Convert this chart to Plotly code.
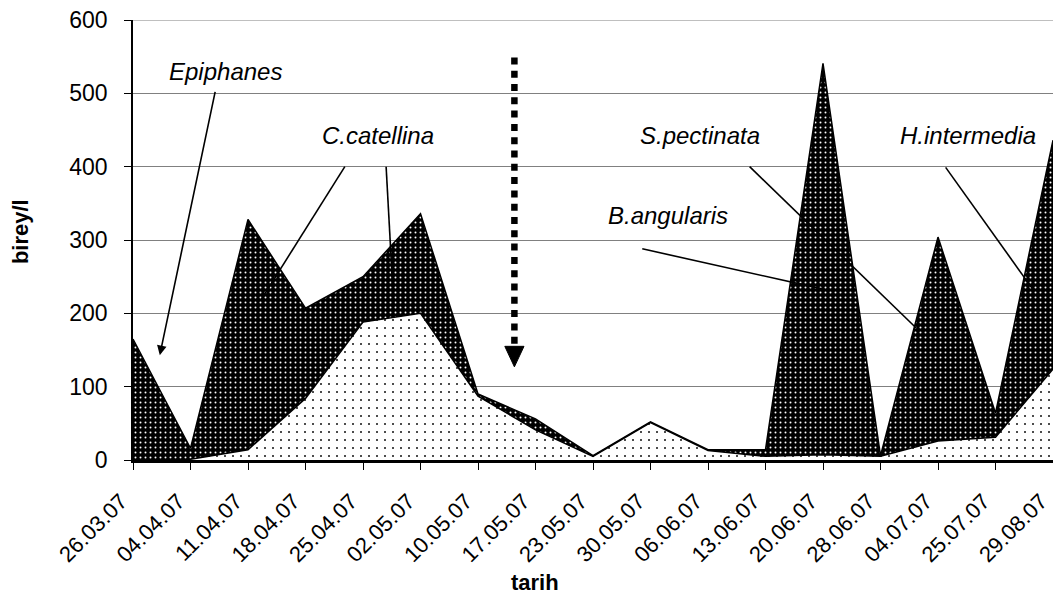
import plotly.graph_objects as go

dates = ["26.03.07", "04.04.07", "11.04.07", "18.04.07", "25.04.07", "02.05.07",
         "10.05.07", "17.05.07", "23.05.07", "30.05.07", "06.06.07", "13.06.07",
         "20.06.07", "28.06.07", "04.07.07", "25.07.07", "29.08.07"]
light_vals = [0, 1, 14, 84, 188, 200, 87, 41, 5, 51, 13, 5, 7, 5, 26, 31, 124]
dark_vals = [165, 15, 314, 123, 62, 136, 3, 15, 1, 1, 1, 9, 534, 1, 278, 33, 312]
y_ticks = [0, 100, 200, 300, 400, 500, 600]

FONT = "Liberation Sans, Arial, sans-serif"
xs = list(range(len(dates)))

fig = go.Figure()
fig.add_trace(go.Scatter(
    x=xs, y=light_vals, stackgroup="one", mode="lines",
    line=dict(color="black", width=1.5),
    fillcolor="white",
    fillpattern=dict(shape=".", size=8, solidity=0.05, bgcolor="white",
                     fgcolor="#111111", fillmode="replace"),
    hoverinfo="skip", showlegend=False))
fig.add_trace(go.Scatter(
    x=xs, y=dark_vals, stackgroup="one", mode="lines",
    line=dict(color="black", width=1.5),
    fillcolor="black",
    fillpattern=dict(shape=".", size=5, solidity=0.12, bgcolor="black",
                     fgcolor="#ffffff", fillmode="replace"),
    hoverinfo="skip", showlegend=False))

# text labels
labels = [
    ("Epiphanes", 1.616, 530),
    ("C.catellina", 4.259, 443),
    ("S.pectinata", 9.862, 443),
    ("B.angularis", 9.302, 333),
    ("H.intermedia", 14.517, 443),
]
anns = []
for t, x, y in labels:
    anns.append(dict(x=x, y=y, xref="x", yref="y", text=t, showarrow=False,
                     xanchor="center", yanchor="middle",
                     font=dict(family=FONT, size=24, color="black", style="italic")))

# Epiphanes arrow
anns.append(dict(x=0.466, y=143, ax=1.434, ay=504, xref="x", yref="y",
                 axref="x", ayref="y", text="", showarrow=True,
                 arrowhead=2, arrowsize=1.2, arrowwidth=1.6, arrowcolor="black"))

# axis titles
anns.append(dict(x=0.437, y=-0.278, xref="paper", yref="paper", text="<b>tarih</b>",
                 showarrow=False, xanchor="center", yanchor="middle",
                 font=dict(family=FONT, size=22, color="black")))
anns.append(dict(x=-0.1228, y=0.518, xref="paper", yref="paper", text="<b>birey/l</b>",
                 showarrow=False, xanchor="center", yanchor="middle", textangle=-90,
                 font=dict(family=FONT, size=22, color="black")))

leader_lines = [
    (3.684, 400, 2.224, 218),
    (4.402, 400, 4.534, 211),
    (10.724, 400, 13.621, 180),
    (8.857, 288, 12.0, 233),
    (14.133, 399, 15.638, 234),
]
shapes = []
for x0, y0, x1, y1 in leader_lines:
    shapes.append(dict(type="line", xref="x", yref="y", x0=x0, y0=y0, x1=x1, y1=y1,
                       line=dict(color="black", width=1.6)))

# top gridline (at the range edge)
shapes.append(dict(type="line", xref="paper", yref="y", x0=0, x1=1, y0=600, y1=600,
                   line=dict(color="#808080", width=1.2), layer="below"))

# dotted vertical arrow
ax_x = 6.633
shapes.append(dict(type="line", xref="x", yref="y", x0=ax_x, y0=549, x1=ax_x, y1=157,
                   line=dict(color="black", width=6.5, dash="7px,6.3px")))
shapes.append(dict(type="path", xref="x", yref="y",
                   path=f"M {ax_x-0.167},155 L {ax_x+0.167},155 L {ax_x},127 Z",
                   fillcolor="black", line=dict(color="black", width=1)))

# page body has an 8px margin, so the figure is sized to fit inside the window
fig.update_layout(
    width=1045, height=587,
    margin=dict(l=125, r=0, t=12, b=135, autoexpand=False),
    paper_bgcolor="white", plot_bgcolor="white",
    font=dict(family=FONT, size=22, color="black"),
    annotations=anns, shapes=shapes,
    xaxis=dict(range=[0, len(dates) - 1], tickmode="array", tickvals=xs, ticktext=dates,
               tickangle=-45, showgrid=False, zeroline=False, automargin=False,
               showline=True, linecolor="black", linewidth=2.5,
               ticks="outside", ticklen=7, tickcolor="black", tickwidth=1,
               ticklabeloverflow="allow", ticklabelshift=-12, ticklabelstandoff=10,
               tickfont=dict(family=FONT, size=22, color="black")),
    yaxis=dict(range=[0, 600], tickmode="array", tickvals=y_ticks, automargin=False,
               showgrid=True, gridcolor="#808080", gridwidth=1.2, zeroline=False,
               showline=True, linecolor="black", linewidth=1.5,
               ticks="outside", ticklen=7, tickcolor="black", tickwidth=1,
               ticklabelstandoff=12, ticklabeloverflow="allow",
               tickfont=dict(family=FONT, size=23, color="black")),
)

fig.write_html("out.html")
